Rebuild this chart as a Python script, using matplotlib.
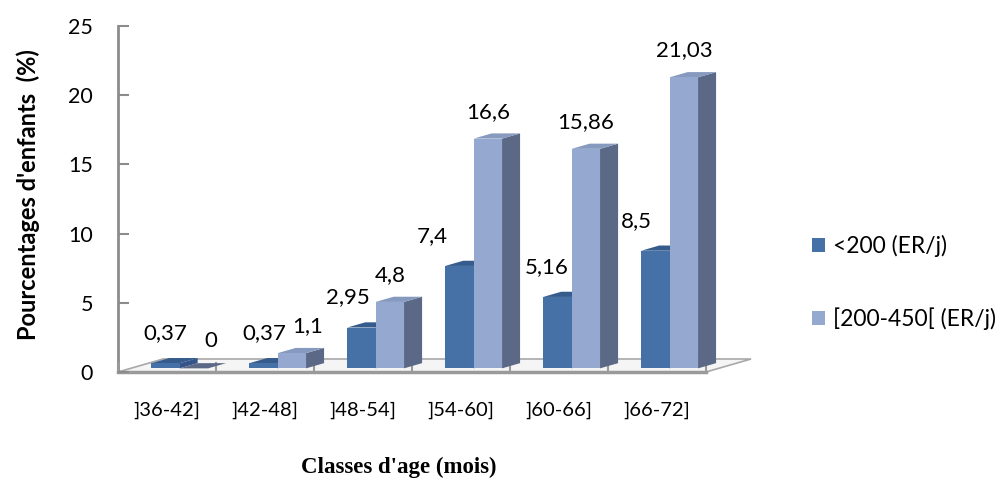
import matplotlib
matplotlib.use("Agg")
import matplotlib.pyplot as plt
from matplotlib.patches import Polygon, Patch

# Data
categories = [']36-42]', ']42-48]', ']48-54]', ']54-60]', ']60-66]', ']66-72]']
below_200 = [0.37, 0.37, 2.95, 7.4, 5.16, 8.5]
from_200_to_450 = [0, 1.1, 4.8, 16.6, 15.86, 21.03]
series_names = ['<200 (ER/j)', '[200-450[ (ER/j)']
y_ticks = [0, 5, 10, 15, 20, 25]

FONT = 'Lato'
W, H = 1006, 495

# Oblique projection of the pseudo-3D floor (depth z in [0, 1])
KX, KY = 0.46, 0.94
Z0, Z1 = 0.28, 0.68
BAR_W = 0.29

STYLES = [
    dict(front='#4571a7', top='#355c8c', side='#34548a'),
    dict(front='#95a9d0', top='#8699bf', side='#5c6986'),
]


def proj(x, y, z):
    return (x + z * KX, y + z * KY)


def fmt(v):
    return ('%g' % v).replace('.', ',')


fig = plt.figure(figsize=(W / 100, H / 100), dpi=100)
ax = fig.add_axes([118 / W, (H - 372) / H, 588 / W, 346 / H])
n = len(categories)
ax.set_xlim(0, n)
ax.set_ylim(0, 25)

# Floor
floor = Polygon([proj(0, 0, 0), proj(n, 0, 0), proj(n, 0, 1), proj(0, 0, 1)],
                closed=True, facecolor='#f5f5f5', edgecolor='#a8a8a8',
                linewidth=1.2, clip_on=False, zorder=1)
ax.add_patch(floor)


def draw_bar(x0, h, st, z):
    x1 = x0 + BAR_W
    side = Polygon([proj(x1, 0, Z0), proj(x1, 0, Z1), proj(x1, h, Z1), proj(x1, h, Z0)],
                   closed=True, facecolor=st['side'], edgecolor='none',
                   clip_on=False, zorder=z)
    top = Polygon([proj(x0, h, Z0), proj(x1, h, Z0), proj(x1, h, Z1), proj(x0, h, Z1)],
                  closed=True, facecolor=st['top'] if h > 0 else st['side'],
                  edgecolor='none', clip_on=False, zorder=z)
    ax.add_patch(side)
    ax.add_patch(top)
    fx, fy = proj(x0, 0, Z0)
    ax.bar(fx, h, width=BAR_W, bottom=fy, align='edge', color=st['front'],
           edgecolor='none', zorder=z + 0.1, clip_on=False)


# Manual label nudges (pixels) so the labels do not collide
dark_dx = [0, 1, -14, -27, -11, -19]
light_dx = [17, 16, 0, 0, 0, 0]

for i in range(n):
    c = i + 0.5
    zb = 2 + i * 0.5
    draw_bar(c - BAR_W, below_200[i], STYLES[0], zb)
    draw_bar(c, from_200_to_450[i], STYLES[1], zb + 0.2)
    for j, (vals, dxs, dy) in enumerate([(below_200, dark_dx, 30), (from_200_to_450, light_dx, 27)]):
        x0 = c - BAR_W if j == 0 else c
        px, py = proj(x0 + BAR_W / 2, vals[i], Z0)
        ax.annotate(fmt(vals[i]), xy=(px, py), xytext=(dxs[i] * 0.72, dy * 0.72),
                    textcoords='offset points', ha='center', va='center',
                    fontsize=16, family=FONT, color='black', zorder=10,
                    annotation_clip=False)

# Axes styling
for s in ['top', 'right']:
    ax.spines[s].set_visible(False)
ax.spines['left'].set_color('#8c8c8c')
ax.spines['left'].set_linewidth(2)
ax.spines['bottom'].set_color('#9a9a9a')
ax.spines['bottom'].set_linewidth(2.5)
ax.spines['left'].set_zorder(1.5)
ax.spines['bottom'].set_zorder(1.5)

ax.set_yticks(y_ticks)
ax.set_yticklabels([str(t) for t in y_ticks], family=FONT, fontsize=15.5)
ax.tick_params(axis='y', direction='in', length=8, width=1.5, color='#8c8c8c', pad=18)

ax.set_xticks(range(n + 1))
ax.set_xticklabels([])
ax.set_xticks([i + 0.5 for i in range(n)], minor=True)
ax.set_xticklabels(categories, minor=True, family=FONT, fontsize=14.5)
ax.tick_params(axis='x', which='major', direction='in', length=7, width=1.5, color='#9a9a9a')
ax.tick_params(axis='x', which='minor', length=0, pad=21)

ax.set_facecolor('none')

fig.text(28 / W, 1 - 195 / H, "Pourcentages d'enfants  (%)", rotation=90,
         ha='center', va='center', fontsize=17, fontweight='bold', family=FONT)
fig.text(399 / W, 1 - 467 / H, "Classes d'age (mois)", ha='center', va='center',
         fontsize=16.5, fontweight='bold', family='Liberation Serif')

handles = [Patch(facecolor=STYLES[k]['front'], edgecolor='none') for k in range(2)]
fig.legend(handles, series_names, loc='upper left',
           bbox_to_anchor=(812 / W, 1 - 235 / H), frameon=False,
           prop=dict(family=FONT, size=16.5), handlelength=0.55, handleheight=0.55,
           handletextpad=0.35, labelspacing=2.2, borderaxespad=0, borderpad=0)

fig.savefig('out.png', dpi=100)
